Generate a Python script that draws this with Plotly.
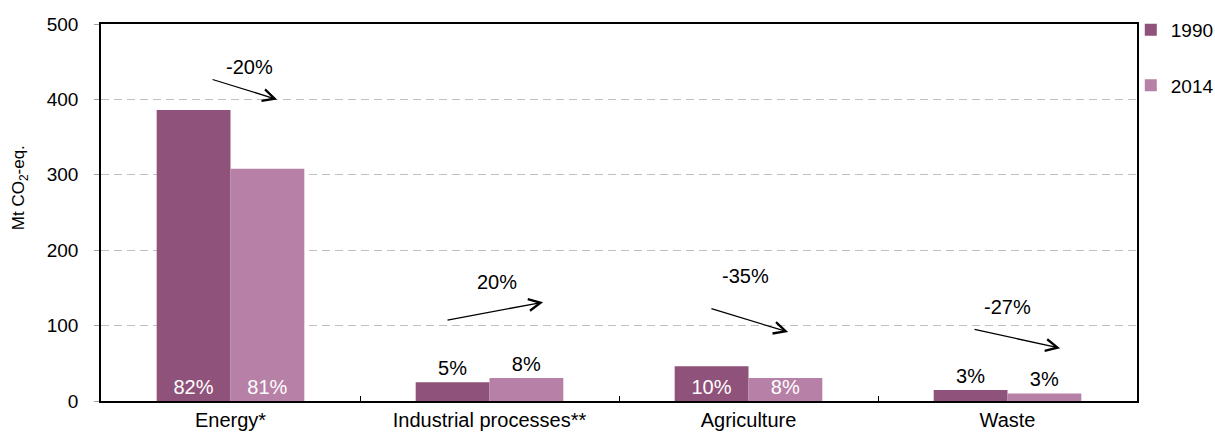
import plotly.graph_objects as go

categories = ['Energy*', 'Industrial processes**', 'Agriculture', 'Waste']
emissions_1990 = [386, 25, 46, 14.5]
emissions_2014 = [308, 30.5, 30.5, 10]
shares_1990 = ['82%', '5%', '10%', '3%']
shares_2014 = ['81%', '8%', '8%', '3%']
label_pos = ['inside', 'outside', 'inside', 'outside']
changes = ['-20%', '20%', '-35%', '-27%']

color_1990 = '#8F527A'
color_2014 = '#B780A6'
font_family = 'Liberation Sans, Arial, sans-serif'

# arrow tail/head and label placement, in (category offset, value)
arrow_tail = [(-0.075, 427), (-0.168, 107), (-0.149, 123), (-0.133, 95.5)]
arrow_head = [(0.18, 400), (0.207, 131), (0.153, 91.5), (0.203, 70)]
change_pos = [(0.075, 443), (0.03, 158), (-0.01, 166), (0.0, 125)]

fig = go.Figure()
for name, vals, shares, color, grp in [('1990', emissions_1990, shares_1990, color_1990, 'a'),
                                        ('2014', emissions_2014, shares_2014, color_2014, 'b')]:
    fig.add_trace(go.Bar(
        x=categories, y=vals, name=name,
        legendgroup=grp,
        marker=dict(color=color, line_width=0),
        text=shares,
        textposition=label_pos,
        insidetextanchor='start',
        insidetextfont=dict(color='white', size=20, family=font_family),
        outsidetextfont=dict(color='black', size=20, family=font_family),
        cliponaxis=False,
        hoverinfo='skip',
    ))

annotations = []
for i, lab in enumerate(changes):
    (tx, ty), (hx, hy), (lx, ly) = arrow_tail[i], arrow_head[i], change_pos[i]
    annotations.append(dict(
        x=i + hx, y=hy, ax=i + tx, ay=ty,
        xref='x', yref='y', axref='x', ayref='y',
        showarrow=True, arrowhead=5, arrowsize=1.8, arrowwidth=1.3,
        arrowcolor='black', text='',
    ))
    annotations.append(dict(
        x=i + lx, y=ly, xref='x', yref='y', text=lab, showarrow=False,
        font=dict(size=20, color='black', family=font_family),
    ))

# y axis title, placed like the original (a bit above centre)
annotations.append(dict(
    x=-0.078, y=0.565, xref='paper', yref='paper', textangle=-90,
    xanchor='center', yanchor='middle',
    text='Mt CO<sub>2</sub>-eq.', showarrow=False,
    font=dict(size=17, color='black', family=font_family),
))

fig.update_layout(
    width=1215, height=441,
    barmode='group',
    bargap=0.43,
    bargroupgap=0,
    paper_bgcolor='white',
    plot_bgcolor='white',
    font=dict(family=font_family, color='black', size=19),
    uniformtext=dict(minsize=20, mode='show'),
    margin=dict(l=101, r=78, t=24, b=40, pad=0, autoexpand=False),
    annotations=annotations,
    legend=dict(
        x=0.994, y=1.035, xanchor='left', yanchor='top',
        font=dict(size=19, family=font_family),
        tracegroupgap=28,
        itemwidth=30,
        bgcolor='rgba(0,0,0,0)',
    ),
    xaxis=dict(
        type='category',
        range=[-0.5, 3.5],
        automargin=False,
        showline=True, linecolor='black', linewidth=1.5, mirror=True,
        ticks='inside', tickson='boundaries', ticklen=5, tickcolor='black',
        tickfont=dict(size=20, family=font_family),
        showgrid=False,
    ),
    yaxis=dict(
        range=[0, 500], dtick=100,
        automargin=False,
        showline=True, linecolor='black', linewidth=1.5, mirror=True,
        ticks='outside', ticklen=5, tickcolor='#A0A0A0',
        ticklabelstandoff=12,
        tickfont=dict(size=19, family=font_family),
        showgrid=True, gridcolor='#BFBFBF', gridwidth=1.3, griddash='8px,5px',
        zeroline=False,
    ),
)

# drop the default 8px page margin so the figure fills the window exactly
fig.write_html('out.html',
               config={'displayModeBar': False},
               post_script="document.body.style.margin='0';document.body.style.overflow='hidden';")
